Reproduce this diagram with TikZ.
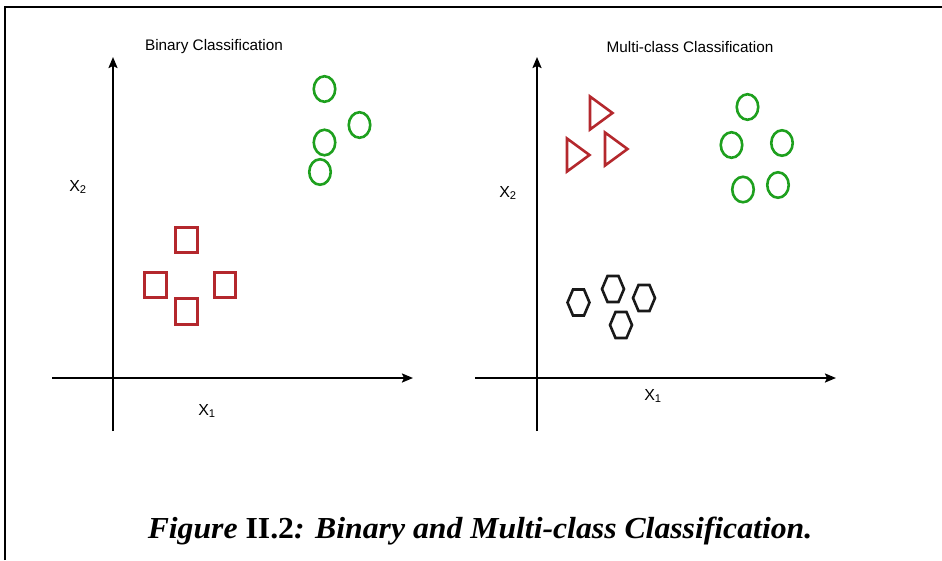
\documentclass[tikz,border=0pt]{standalone}
\usepackage{fontspec}
\setmainfont{Liberation Serif}
\newfontfamily\labelfont{Liberation Sans}
\usetikzlibrary{arrows.meta,shapes.geometric}
\definecolor{dotred}{RGB}{180,40,45}
\definecolor{dotgreen}{RGB}{30,160,30}
\definecolor{hexblack}{RGB}{25,25,25}

\tikzset{
  frameline/.style={line width=2.6pt,black},
  axisline/.style={line width=2pt,black,-{Stealth[length=11pt,width=9pt,inset=2pt]}},
  squaredot/.style={draw=dotred,line width=2.6pt,minimum width=21.5pt,minimum height=25.5pt,inner sep=0pt},
  circledot/.style={ellipse,draw=dotgreen,line width=2.6pt,minimum width=21.5pt,minimum height=25.5pt,inner sep=0pt},
  trianglebody/.style={draw=dotred,line width=2.6pt,line join=miter},
  hexbody/.style={draw=hexblack,line width=2.6pt,line join=miter},
  paneltitle/.style={font=\labelfont\fontsize{15.3}{17}\selectfont,inner sep=0pt},
  axislabel/.style={font=\labelfont\fontsize{16}{18}\selectfont,inner sep=0pt},
  captiontext/.style={inner sep=0pt,font=\fontsize{30.5}{34}\selectfont\bfseries,xscale=1.04,transform shape},
  tripic/.pic={\draw[trianglebody] (0,-16.5) -- (0,16.5) -- (22.5,0) -- cycle;},
  hexpic/.pic={\draw[hexbody] (-11,0) -- (-5.5,-13) -- (5.5,-13) -- (11,0) -- (5.5,13) -- (-5.5,13) -- cycle;}
}

\begin{document}
\begin{tikzpicture}[x=1pt,y=-1pt]
\useasboundingbox (0,0) rectangle (942,560);

% page frame (top and left edges)
\coordinate (fbl) at (5,560);
\coordinate (ftl) at (5,7);
\coordinate (ftr) at (942,7);
\draw[frameline] (fbl) -- (ftl) -- (ftr);

% ---------- binary classification ----------
\node[paneltitle] (btitle) at (214,47) {Binary Classification};
\coordinate (bybot) at (113,431);
\coordinate (bytop) at (113,57);
\coordinate (bxl) at (52,378);
\coordinate (bxr) at (413,378);
\draw[axisline] (bybot) -- (bytop);
\draw[axisline] (bxl) -- (bxr);
\node[axislabel] (bx2) at (78,187) {X\textsubscript{2}};
\node[axislabel] (bx1) at (207,411) {X\textsubscript{1}};

\node[squaredot] (sq1) at (186.5,240) {};
\node[squaredot] (sq2) at (155.5,285) {};
\node[squaredot] (sq3) at (225,285) {};
\node[squaredot] (sq4) at (186.5,311.5) {};

\node[circledot] (bc1) at (324.5,89) {};
\node[circledot] (bc2) at (359.5,125) {};
\node[circledot] (bc3) at (324.5,142.5) {};
\node[circledot] (bc4) at (320,172) {};

% ---------- multi-class classification ----------
\node[paneltitle] (mtitle) at (690,47) {Multi-class Classification};
\coordinate (mybot) at (537,431);
\coordinate (mytop) at (537,57);
\coordinate (mxl) at (475,378);
\coordinate (mxr) at (836,378);
\draw[axisline] (mybot) -- (mytop);
\draw[axisline] (mxl) -- (mxr);
\node[axislabel] (mx2) at (508,193) {X\textsubscript{2}};
\node[axislabel] (mx1) at (653,396) {X\textsubscript{1}};

\pic at (590,113) {tripic};
\pic at (605,149) {tripic};
\pic at (567,155) {tripic};

\node[circledot] (mc1) at (747.5,107) {};
\node[circledot] (mc2) at (731.5,145) {};
\node[circledot] (mc3) at (782,143) {};
\node[circledot] (mc4) at (743,189.5) {};
\node[circledot] (mc5) at (778,185) {};

\pic at (578.5,302.5) {hexpic};
\pic at (613,289) {hexpic};
\pic at (644,298) {hexpic};
\pic at (621,325) {hexpic};

% ---------- caption ----------
\node[captiontext] (caption) at (480,531)
  {\itshape Figure \upshape II.2\itshape: Binary and Multi-class Classification.};
\end{tikzpicture}
\end{document}
